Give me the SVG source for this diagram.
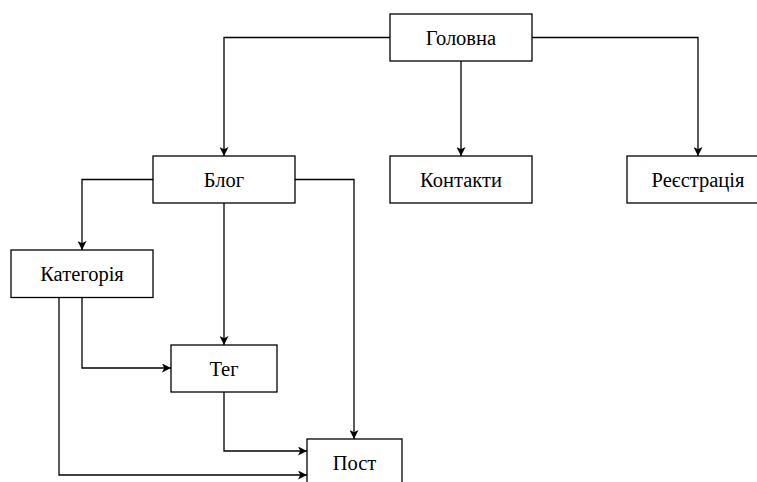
<svg xmlns="http://www.w3.org/2000/svg" width="757" height="482" viewBox="0 0 757 482">
<style>
.box{fill:#fff;stroke:#000;stroke-width:1.3}
.lbl{font-family:"Liberation Serif","Times New Roman",serif;font-size:20.5px;fill:#000;text-anchor:middle}
.c{fill:none;stroke:#000;stroke-width:1.3}
</style>
<defs>
<marker id="arr" viewBox="0 0 10 10" refX="10" refY="5" markerWidth="9" markerHeight="9" markerUnits="userSpaceOnUse" orient="auto">
<path d="M0,0 L10,5 L0,10 L2.5,5 z" fill="#000"/>
</marker>
</defs>
<rect width="757" height="482" fill="#fff"/>
<g id="connectors">
<path class="c" d="M390,37.5 H224 V156" marker-end="url(#arr)"/>
<path class="c" d="M461,61 V156" marker-end="url(#arr)"/>
<path class="c" d="M532,37.5 H698 V156" marker-end="url(#arr)"/>
<path class="c" d="M153,179.5 H82 V250" marker-end="url(#arr)"/>
<path class="c" d="M224,203 V345" marker-end="url(#arr)"/>
<path class="c" d="M295,179.5 H354 V439" marker-end="url(#arr)"/>
<path class="c" d="M82,298 V368 H171" marker-end="url(#arr)"/>
<path class="c" d="M59,298 V475 H307" marker-end="url(#arr)"/>
<path class="c" d="M224,392 V451 H307" marker-end="url(#arr)"/>
</g>
<g id="golovna"><rect class="box" x="390" y="14" width="142" height="47"/><text class="lbl" x="461" y="44.5">Головна</text></g>
<g id="blog"><rect class="box" x="153" y="156" width="142" height="47"/><text class="lbl" x="224" y="186.5">Блог</text></g>
<g id="kontakty"><rect class="box" x="390" y="156" width="142" height="47"/><text class="lbl" x="461" y="186.5">Контакти</text></g>
<g id="reiestratsiia"><rect class="box" x="627" y="156" width="142" height="47"/><text class="lbl" x="698" y="186.5">Реєстрація</text></g>
<g id="katehoriia"><rect class="box" x="11" y="250" width="142" height="47.5"/><text class="lbl" x="82" y="280.5">Категорія</text></g>
<g id="teh"><rect class="box" x="171" y="345" width="106" height="47"/><text class="lbl" x="224" y="375.5">Тег</text></g>
<g id="post"><rect class="box" x="307" y="439" width="95" height="47"/><text class="lbl" x="354.5" y="469.5">Пост</text></g>
</svg>
